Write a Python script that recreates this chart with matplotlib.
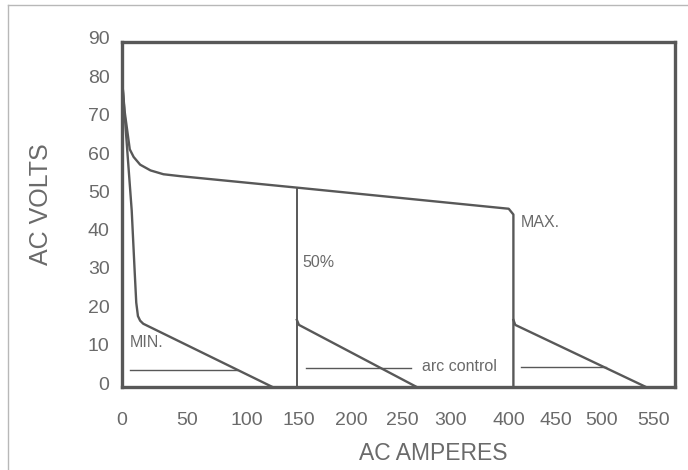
import numpy as np
import matplotlib
matplotlib.use("Agg")
import matplotlib.pyplot as plt
from matplotlib.lines import Line2D
from matplotlib.transforms import ScaledTranslation

# Tick labels as printed (note: no 350 on the original axis)
amp_ticks = [0, 50, 100, 150, 200, 250, 300, 400, 450, 500, 550]
volt_ticks = [0, 10, 20, 30, 40, 50, 60, 70, 80, 90]

# The printed ampere axis is not linear; where each label sits along the axis
amp_anchor = [0, 50, 100, 150, 200, 250, 300, 400, 450, 500, 550, 600]
axis_pos = [0, 65, 125, 177, 230, 281, 330, 388, 435, 481, 533, 585]

# MAX setting: open-circuit curve falling to the maximum current
max_amps = [0, 2, 4, 6, 9, 14, 22, 32, 45, 149, 400, 405, 405]
max_volts = [80.5, 72, 67, 62, 60, 58, 56.5, 55.5, 55, 52, 46.5, 45, 0]
max_arc_amps = [405, 407, 543]
max_arc_volts = [17.5, 16.2, 0]

# 50% setting
half_amps = [148.5, 148.5]
half_volts = [52, 0]
half_arc_amps = [148.5, 150.5, 265]
half_arc_volts = [17.5, 16.2, 0]

# MIN setting
min_amps = [0, 4, 7.5, 9.8, 11, 12.3, 14, 16.4, 125]
min_volts = [80.5, 62, 46, 30, 22, 18.5, 17.3, 16.5, 0]

# arc control lines
arc_min = ([6, 92], [4.5, 4.5])
arc_half = ([157.5, 259], [5, 5])
arc_max = ([413, 504], [5.2, 5.2])


def forward(x):
    return np.interp(x, amp_anchor, axis_pos)


def inverse(p):
    return np.interp(p, axis_pos, amp_anchor)


plt.rcParams['font.family'] = ['Liberation Sans', 'DejaVu Sans']
line_col = '#585858'
text_col = '#6a6a6a'

fig = plt.figure(figsize=(6.88, 4.70), dpi=100)
ax = fig.add_axes([122 / 688, 1 - 387 / 470, 553 / 688, 345 / 470])
ax.set_xscale('function', functions=(forward, inverse))

ax.plot(max_amps, max_volts, color=line_col, lw=1.7, solid_joinstyle='round')
ax.plot(max_arc_amps, max_arc_volts, color=line_col, lw=1.7)
ax.plot(half_amps, half_volts, color=line_col, lw=1.4)
ax.plot(half_arc_amps, half_arc_volts, color=line_col, lw=1.7)
ax.plot(min_amps, min_volts, color=line_col, lw=1.7, solid_joinstyle='round')
for xs, ys in (arc_min, arc_half, arc_max):
    ax.plot(xs, ys, color=line_col, lw=1.0)

ax.text(6.2, 11.5, 'MIN.', fontsize=11.5, color=text_col, va='center')
ax.text(153.8, 32.5, '50%', fontsize=11.5, color=text_col, va='center')
ax.text(413, 43, 'MAX.', fontsize=11.5, color=text_col, va='center')
ax.text(270, 5.3, 'arc control', fontsize=11.5, color=text_col, va='center')

ax.set_xlim(0, 571)
ax.set_ylim(0, 90)
ax.set_xticks(amp_ticks)
ax.set_xticklabels([str(t) for t in amp_ticks])
ax.set_yticks(volt_ticks)
ax.minorticks_off()
ax.tick_params(axis='x', length=0, pad=18, labelsize=14, labelcolor=text_col)
ax.tick_params(axis='y', length=0, pad=9, labelsize=14, labelcolor=text_col)

# the printed volt labels sit a little above their gridline positions
shift = ScaledTranslation(0, 4 / 100, fig.dpi_scale_trans)
for t in ax.yaxis.get_major_ticks():
    t.label1.set_transform(t.label1.get_transform() + shift)

for s in ax.spines.values():
    s.set_color(line_col)
    s.set_linewidth(2.4)

ax.set_xlabel('AC AMPERES', fontsize=16.5, color=text_col)
ax.xaxis.set_label_coords(0.563, -0.158)
ax.set_ylabel('AC VOLTS', fontsize=18, color=text_col)
ax.yaxis.set_label_coords(-0.125, 0.53)

# thin scan border at left and top
fig.add_artist(Line2D([8 / 688, 8 / 688], [0, 1 - 5 / 470], transform=fig.transFigure,
                      color='#b8b8b8', lw=1))
fig.add_artist(Line2D([8 / 688, 1], [1 - 5 / 470, 1 - 5 / 470], transform=fig.transFigure,
                      color='#b8b8b8', lw=1))

fig.savefig('out.png', dpi=100)
